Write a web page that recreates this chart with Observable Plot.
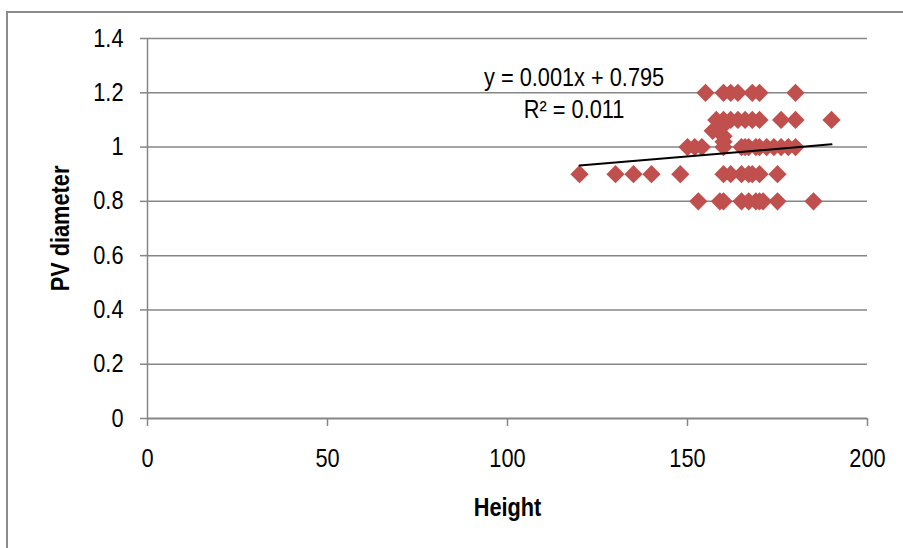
<!DOCTYPE html>
<html><head><meta charset="utf-8">
<script src="https://cdn.jsdelivr.net/npm/d3@7"></script>
<script src="https://cdn.jsdelivr.net/npm/@observablehq/plot@0.6"></script>
<style>
body{margin:0;background:#fff;overflow:hidden;}
#frame{position:absolute;left:6px;top:11px;width:1000px;height:700px;border-left:2px solid #8c8c8c;border-top:2px solid #8c8c8c;}
#chart{position:absolute;left:0;top:0;}
</style></head><body><div id="frame"></div><div id="chart"></div>
<script>
// Height (x) and PV diameter (y)
const heights = [
  155,160,162,164,168,170,180,
  158,160,162,164,166,168,170,176,180,190,
  157,160,160,160,
  150,152,154,160,165,166,167,169,170,172,174,176,178,180,
  120,130,135,140,148,160,162,165,167,168,170,175,
  153,159,160,165,167,169,170,171,175,185
];
const diameters = [
  1.2,1.2,1.2,1.2,1.2,1.2,1.2,
  1.1,1.1,1.1,1.1,1.1,1.1,1.1,1.1,1.1,1.1,
  1.06,1.08,1.04,1.02,
  1.0,1.0,1.0,1.0,1.0,1.0,1.0,1.0,1.0,1.0,1.0,1.0,1.0,1.0,
  0.9,0.9,0.9,0.9,0.9,0.9,0.9,0.9,0.9,0.9,0.9,0.9,
  0.8,0.8,0.8,0.8,0.8,0.8,0.8,0.8,0.8,0.8
];
const trendX = [120, 190];
const trendY = [0.932, 1.010];
const eqText = ["y = 0.001x + 0.795", "R² = 0.011"];
const eqX = [118.5, 118.5];
const eqY = [1.253, 1.135];
const xTicks = [0, 50, 100, 150, 200];
const yTicks = [0, 0.2, 0.4, 0.6, 0.8, 1.0, 1.2, 1.4];
const yTickLabels = ["0", "0.2", "0.4", "0.6", "0.8", "1", "1.2", "1.4"];
const xLabel = "Height";
const yLabel = "PV diameter";

const points = heights.map((h, i) => ({h, d: diameters[i]}));
const trend = trendX.map((x, i) => ({x, y: trendY[i]}));
const eq = eqText.map((t, i) => ({t, x: eqX[i], y: eqY[i]}));

const font = "'Liberation Sans Narrow','Arial Narrow','Liberation Sans',Arial,sans-serif";
const grey = "#868686";

const chart = Plot.plot({
  width: 903, height: 548,
  marginLeft: 147, marginRight: 36, marginTop: 38, marginBottom: 130,
  x: {domain: [0, 200]},
  y: {domain: [0, 1.4]},
  style: {fontFamily: font, fontSize: "25px", color: "black", background: "transparent", overflow: "visible"},
  marks: [
    Plot.ruleY(yTicks.slice(1), {stroke: grey, strokeWidth: 1.5}),
    Plot.axisY({ticks: yTicks, tickFormat: (d, i) => yTickLabels[i], tickSize: 7, tickPadding: 17, stroke: grey, strokeWidth: 1.5, label: null}),
    Plot.axisX({ticks: xTicks, tickFormat: d => String(d), tickSize: 8, tickPadding: 23, stroke: grey, strokeWidth: 1.5, label: null}),
    Plot.ruleX([0], {stroke: grey, strokeWidth: 1.5}),
    Plot.ruleY([0], {stroke: grey, strokeWidth: 2}),
    Plot.dot(points, {x: "h", y: "d", symbol: "diamond2", r: 8.2, fill: "#C0504D", stroke: "none"}),
    Plot.line(trend, {x: "x", y: "y", stroke: "black", strokeWidth: 2}),
    Plot.text(eq, {x: "x", y: "y", text: "t", fill: "black"}),
    Plot.text([xLabel], {frameAnchor: "bottom", dy: 89, lineAnchor: "middle", textAnchor: "middle", fontWeight: "bold", fill: "black"}),
    Plot.text([yLabel], {frameAnchor: "left", dx: -87, rotate: -90, textAnchor: "middle", lineAnchor: "middle", fontWeight: "bold", fill: "black"})
  ]
});
// condense text horizontally (reference uses a narrow face)
const s = 0.87;
chart.querySelectorAll("text").forEach(t => {
  const x = t.x.baseVal.numberOfItems ? t.x.baseVal.getItem(0).value : 0;
  const prev = t.getAttribute("transform") || "";
  t.setAttribute("transform", `${prev} translate(${x},0) scale(${s},1) translate(${-x},0)`);
});
document.getElementById("chart").appendChild(chart);
</script>
</body></html>
